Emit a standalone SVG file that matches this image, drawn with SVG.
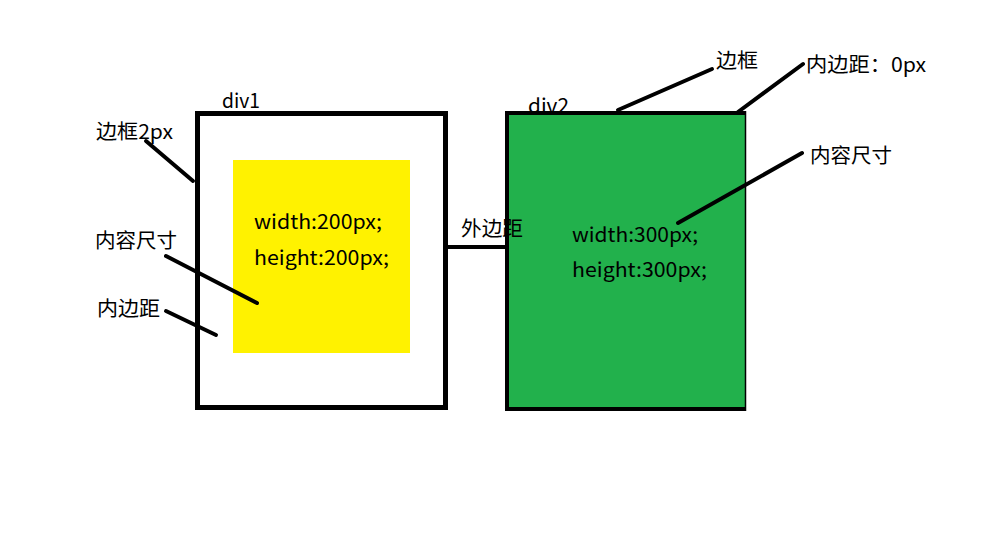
<svg xmlns="http://www.w3.org/2000/svg" width="1005" height="544" viewBox="0 0 1005 544">
<style>
text{font-family:"Noto Sans CJK SC","Noto Sans",sans-serif;font-size:20px;fill:#000}
.ln{stroke:#000;stroke-width:4;stroke-linecap:round;fill:none}
</style>
<rect width="1005" height="544" fill="#fff"/>
<g id="div1">
<text x="222" y="108" textLength="38" lengthAdjust="spacingAndGlyphs">div1</text>
<rect x="197.5" y="113.5" width="248" height="294" fill="#fff" stroke="#000" stroke-width="5"/>
<rect x="233" y="160" width="177" height="193" fill="#fff200"/>
<text x="254" y="229" textLength="128" lengthAdjust="spacingAndGlyphs">width:200px;</text>
<text x="254" y="265" textLength="135" lengthAdjust="spacingAndGlyphs">height:200px;</text>
</g>
<g id="div2">
<text x="528" y="113" textLength="41" lengthAdjust="spacingAndGlyphs">div2</text>
<rect x="507" y="113" width="239" height="296" fill="#22b14c"/>
<path d="M746,113 H507 V409 H746" fill="none" stroke="#000" stroke-width="4"/>
<line x1="745.5" y1="111" x2="745.5" y2="411" stroke="#000" stroke-width="1.5"/>
<text x="572" y="242" textLength="126" lengthAdjust="spacingAndGlyphs">width:300px;</text>
<text x="572" y="277" textLength="135" lengthAdjust="spacingAndGlyphs">height:300px;</text>
</g>
<g id="labels">
<text x="96" y="139" textLength="77" lengthAdjust="spacingAndGlyphs">边框2px</text>
<text x="95" y="248" textLength="82" lengthAdjust="spacingAndGlyphs">内容尺寸</text>
<text x="97" y="316" textLength="63" lengthAdjust="spacingAndGlyphs">内边距</text>
<text x="461" y="236" textLength="62" lengthAdjust="spacingAndGlyphs">外边距</text>
<text x="716" y="68" textLength="42" lengthAdjust="spacingAndGlyphs">边框</text>
<text x="806" y="72" textLength="120" lengthAdjust="spacingAndGlyphs">内边距：0px</text>
<text x="810" y="163" textLength="82" lengthAdjust="spacingAndGlyphs">内容尺寸</text>
</g>
<g id="connectors">
<line x1="448" y1="247" x2="505" y2="247" stroke="#000" stroke-width="4"/>
<line class="ln" x1="146" y1="141" x2="193" y2="181"/>
<line class="ln" x1="166" y1="256" x2="257" y2="303"/>
<line class="ln" x1="166" y1="311" x2="216" y2="335"/>
<line class="ln" x1="618" y1="110" x2="712" y2="69"/>
<line class="ln" x1="738" y1="112" x2="803" y2="64"/>
<line class="ln" x1="678" y1="223" x2="802" y2="153"/>
</g>
</svg>
